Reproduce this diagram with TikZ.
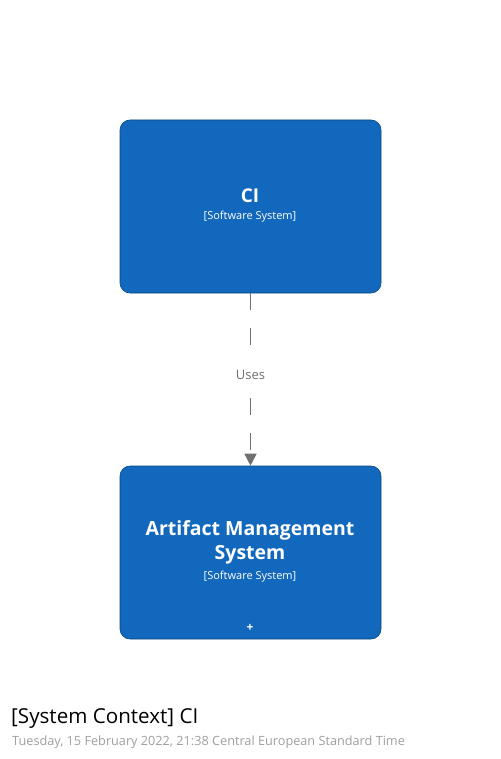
\documentclass[tikz,border=0pt]{standalone}
\usepackage{fontspec}
\setmainfont{Open Sans}
\usetikzlibrary{arrows.meta}
\definecolor{sysblue}{HTML}{1168BD}
\definecolor{sysedge}{HTML}{0B4884}
\definecolor{linegray}{HTML}{707070}
\definecolor{dategray}{HTML}{A0A0A0}
\begin{document}
\begin{tikzpicture}[x=1pt,y=-1pt,
  sysbox/.style={draw=sysedge,line width=0.6pt,fill=sysblue,rounded corners=10pt,minimum width=261pt,minimum height=173pt,inner sep=0pt},
  wtext/.style={text=white,inner sep=0pt,align=center},
  rel/.style={draw=linegray,line width=1.5pt,dash pattern=on 17pt off 18pt,-{Triangle[length=12pt,width=12pt]}},
  rellabel/.style={fill=white,text=linegray,font=\fontsize{13pt}{15pt}\selectfont,inner xsep=3pt,inner ysep=8pt}]
\useasboundingbox (0,0) rectangle (500,759);
\fill[white] (0,0) rectangle (500,759);
\node[sysbox] (ci) at (250.5,206.5) {};
\node[sysbox] (ams) at (250.5,552.5) {};
\node[wtext,font=\bfseries\fontsize{19pt}{23pt}\selectfont] (cititle) at (250,196) {CI};
\node[wtext,font=\fontsize{11pt}{13pt}\selectfont] (cisub) at (250,217) {[Software System]};
\node[wtext,font=\bfseries\fontsize{19.5pt}{23.5pt}\selectfont] (amstitle) at (250,542.5) {Artifact Management\\System};
\node[wtext,font=\fontsize{11pt}{13pt}\selectfont] (amssub) at (250,577) {[Software System]};
\node[wtext,font=\bfseries\fontsize{12pt}{14pt}\selectfont] (plus) at (250,628) {+};
\draw[rel] (ci.south) -- (ams.north) node[rellabel,pos=0.475] (uses) {Uses};
\node[anchor=west,inner sep=0pt,font=\fontsize{20.6pt}{24pt}\selectfont] (title) at (11,718.5) {[System Context] CI};
\node[anchor=west,inner sep=0pt,text=dategray,font=\fontsize{12.7pt}{15pt}\selectfont] (date) at (12,742) {Tuesday, 15 February 2022, 21:38 Central European Standard Time};
\end{tikzpicture}
\end{document}
